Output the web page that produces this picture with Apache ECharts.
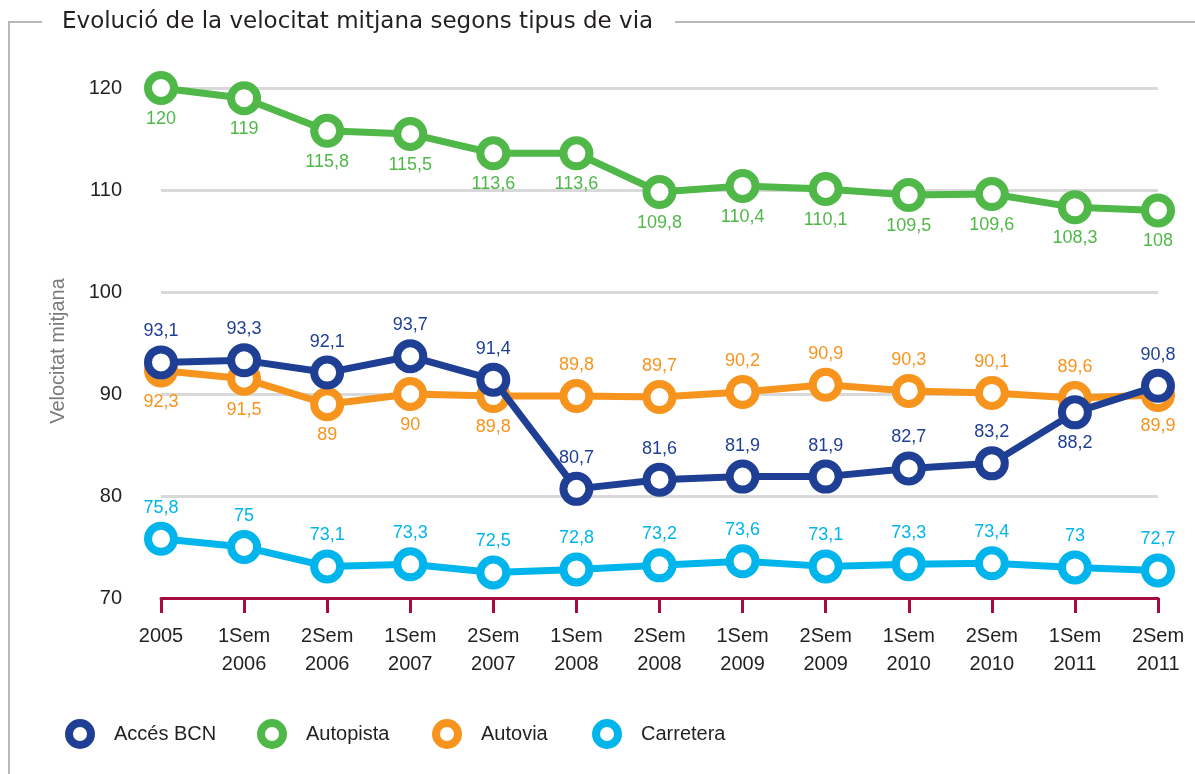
<!DOCTYPE html>
<html>
<head>
<meta charset="utf-8">
<script src="https://cdn.jsdelivr.net/npm/echarts@6/dist/echarts.min.js"></script>
<style>
  html, body { margin: 0; padding: 0; background: #fff; }
  #main { width: 1195px; height: 774px; }
</style>
</head>
<body>
<div id="main"></div>
<script>
// categories (semesters)
const periods = [
  "2005", "1Sem\n2006", "2Sem\n2006", "1Sem\n2007", "2Sem\n2007",
  "1Sem\n2008", "2Sem\n2008", "1Sem\n2009", "2Sem\n2009",
  "1Sem\n2010", "2Sem\n2010", "1Sem\n2011", "2Sem\n2011",
];

// series values
const accesBcn = [93.1, 93.3, 92.1, 93.7, 91.4, 80.7, 81.6, 81.9, 81.9, 82.7, 83.2, 88.2, 90.8];
const autopista = [120, 119, 115.8, 115.5, 113.6, 113.6, 109.8, 110.4, 110.1, 109.5, 109.6, 108.3, 108];
const autovia = [92.3, 91.5, 89, 90, 89.8, 89.8, 89.7, 90.2, 90.9, 90.3, 90.1, 89.6, 89.9];
const carretera = [75.8, 75, 73.1, 73.3, 72.5, 72.8, 73.2, 73.6, 73.1, 73.3, 73.4, 73, 72.7];

// y axis ticks
const yTicks = [70, 80, 90, 100, 110, 120];

const colors = {
  acces: "#1e3f93",
  autopista: "#4fb848",
  autovia: "#f7941d",
  carretera: "#00b5ec",
};

const numFont = "Liberation Sans";
const fmt = (v) => String(v).replace(".", ",");

// label below the point for these indices, above otherwise
const belowAcces = [11];
const belowAutovia = [0, 1, 2, 3, 4, 12];

function makeSeries(name, values, color, labelPos, z) {
  return {
    name,
    type: "line",
    z,
    symbol: "circle",
    symbolSize: 26,
    lineStyle: { color, width: 7 },
    itemStyle: { color: "#fff", borderColor: color, borderWidth: 8 },
    emphasis: { disabled: true },
    label: {
      show: true,
      color,
      fontFamily: numFont,
      fontSize: 18,
      distance: 5,
      formatter: (p) => fmt(p.value),
    },
    data: values.map((v, i) => ({ value: v, label: { position: labelPos(i) } })),
  };
}

const chart = echarts.init(document.getElementById("main"));

const legendLefts = [65, 257, 432, 592];
const legendNames = ["Accés BCN", "Autopista", "Autovia", "Carretera"];
const legendColors = [colors.acces, colors.autopista, colors.autovia, colors.carretera];

const options = {
  animation: false,
  grid: { left: 161, right: 37, top: 88, bottom: 176 },
  legend: legendNames.map((n, i) => ({
    data: [{ name: n, itemStyle: { color: "#fff", borderColor: legendColors[i], borderWidth: 8 } }],
    left: legendLefts[i],
    top: 719,
    padding: 0,
    icon: "circle",
    itemWidth: 22,
    itemHeight: 25,
    selectedMode: false,
    textStyle: {
      fontFamily: numFont,
      fontSize: 20,
      color: "#231f20",
      padding: [0, 0, 0, 18],
    },
  })),
  graphic: [
    {
      type: "polyline",
      shape: { points: [[42, 22], [9, 22], [9, 774]] },
      style: { stroke: "#b8b8b8", lineWidth: 2, fill: null },
    },
    {
      type: "line",
      shape: { x1: 675, y1: 22, x2: 1195, y2: 22 },
      style: { stroke: "#b8b8b8", lineWidth: 2 },
    },
    {
      type: "text",
      left: 62,
      top: 11,
      style: {
        text: "Evolució de la velocitat mitjana segons tipus de via",
        font: "23px 'DejaVu Sans'",
        fill: "#231f20",
      },
    },
  ],
  xAxis: {
    type: "category",
    data: periods,
    boundaryGap: false,
    axisLine: { lineStyle: { color: "#a50b3f", width: 3 } },
    axisTick: { length: 15, lineStyle: { color: "#a50b3f", width: 3 } },
    axisLabel: {
      margin: 24,
      fontFamily: numFont,
      fontSize: 20,
      lineHeight: 28,
      color: "#231f20",
    },
    splitLine: { show: false },
  },
  yAxis: {
    type: "value",
    min: yTicks[0],
    max: yTicks[yTicks.length - 1],
    interval: 10,
    name: "Velocitat mitjana",
    nameLocation: "middle",
    nameGap: 93,
    nameTextStyle: { fontFamily: numFont, fontSize: 20, color: "#7a7a7a", padding: [0, 16, 0, 0] },
    axisLine: { show: false },
    axisTick: { show: false },
    axisLabel: { margin: 39, fontFamily: numFont, fontSize: 20, color: "#231f20" },
    splitLine: { lineStyle: { color: "#d9d9d9", width: 3 } },
  },
  series: [
    makeSeries("Carretera", carretera, colors.carretera, () => "top", 2),
    makeSeries("Autovia", autovia, colors.autovia, (i) => (belowAutovia.includes(i) ? "bottom" : "top"), 3),
    makeSeries("Autopista", autopista, colors.autopista, () => "bottom", 4),
    makeSeries("Accés BCN", accesBcn, colors.acces, (i) => (belowAcces.includes(i) ? "bottom" : "top"), 5),
  ],
};

chart.setOption(options);
</script>
</body>
</html>
